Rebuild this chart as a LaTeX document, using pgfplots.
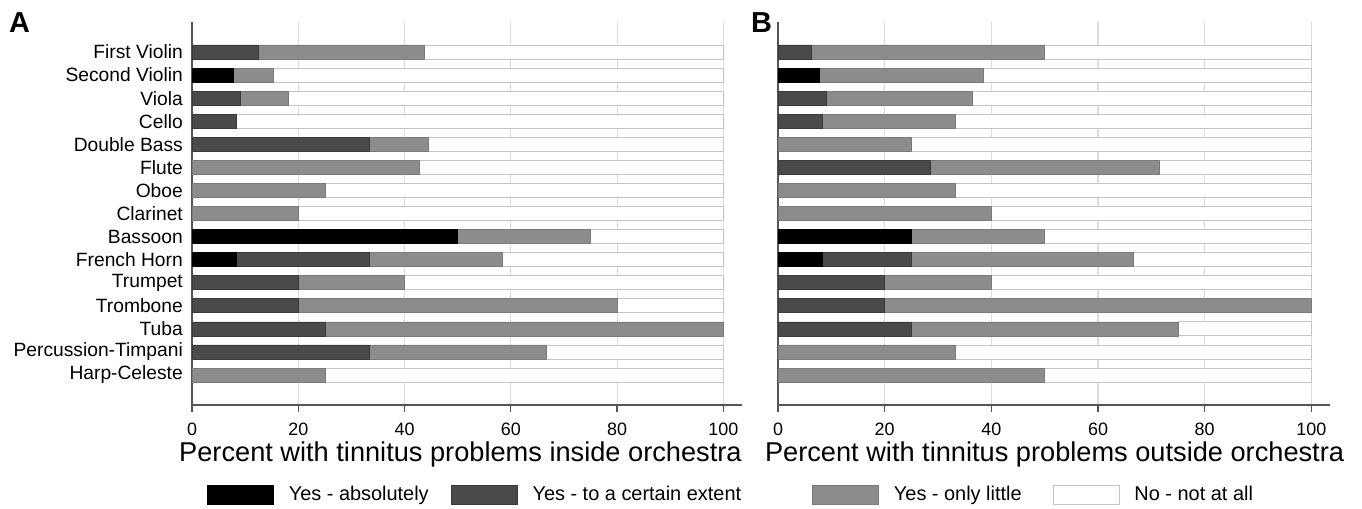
\documentclass[border=0pt]{standalone}
\usepackage{pgfplots}
\pgfplotsset{compat=1.18}
\usepackage{pgfplotstable}
\usepackage{fontspec}
\setmainfont{Liberation Sans}

\definecolor{darkbar}{HTML}{4A4A4A}
\definecolor{darkbard}{HTML}{3A3A3A}
\definecolor{midbar}{HTML}{8C8C8C}
\definecolor{midbard}{HTML}{7A7A7A}
\definecolor{whitebard}{HTML}{C4C4C4}
\definecolor{gridc}{HTML}{DCDCDC}
\definecolor{axisc}{HTML}{555555}

\pgfplotstableread{
id abs cert little no
1  0     12.5  31.25 56.25
2  7.69  0     7.69  84.62
3  0     9.09  9.09  81.82
4  0     8.33  0     91.67
5  0     33.33 11.11 55.56
6  0     0     42.86 57.14
7  0     0     25    75
8  0     0     20    80
9  50    0     25    25
10 8.33  25    25    41.67
11 0     20    20    60
12 0     20    60    20
13 0     25    75    0
14 0     33.33 33.33 33.34
15 0     0     25    75
}\dataA

\pgfplotstableread{
id abs cert little no
1  0     6.25  43.75 50
2  7.69  0     30.77 61.54
3  0     9.09  27.27 63.64
4  0     8.33  25    66.67
5  0     0     25    75
6  0     28.57 42.86 28.57
7  0     0     33.33 66.67
8  0     0     40    60
9  25    0     25    50
10 8.33  16.67 41.67 33.33
11 0     20    20    60
12 0     20    80    0
13 0     25    50    25
14 0     0     33.33 66.67
15 0     0     50    50
}\dataB

\pgfplotsset{
  panel/.style={
    scale only axis, height=383bp,
    xbar stacked, bar width=14bp,
    xmin=0, xmax=103.5, ymin=-0.3, ymax=16.3, y dir=reverse,
    axis x line*=bottom, axis y line*=left,
    axis line style={axisc, line width=1.3bp},
    xtick={0,20,...,100}, ytick={1,...,15},
    tick align=outside, major tick length=7bp,
    xtick style={axisc, line width=1.3bp},
    ytick style={draw=none},
    xmajorgrids, grid style={gridc, line width=1.2bp},
    /pgf/number format/assume math mode=true,
    xticklabel style={font=\fontsize{18}{20}\selectfont, inner sep=0pt, yshift=-10.5bp},
    yticklabel style={font=\fontsize{19.3}{21}\selectfont, inner sep=0pt, xshift=-2bp},
    xlabel style={anchor=base, yshift=-56bp, font=\fontsize{27.3}{30}\selectfont, inner sep=0pt},
    legend image code/.code={\draw[##1, line width=0.8bp] (0bp,-9.5bp) rectangle (66bp,9.5bp);},
  },
  s1/.style={fill=black, draw=black, line width=0.6bp},
  s2/.style={fill=darkbar, draw=darkbard, line width=0.6bp},
  s3/.style={fill=midbar, draw=midbard, line width=0.6bp},
  s4/.style={fill=white, draw=whitebard, line width=0.8bp},
}

\begin{document}
\begin{tikzpicture}
\useasboundingbox (0,0) rectangle (1362bp,509bp);

\begin{axis}[panel, width=550bp,
  at={(192bp,104bp)}, anchor=south west,
  yticklabels={First Violin,Second Violin,Viola,Cello,Double Bass,Flute,Oboe,Clarinet,Bassoon,French Horn,Trumpet,Trombone,Tuba,Percussion-Timpani,Harp-Celeste},
  xlabel={Percent with tinnitus problems inside orchestra},
  xlabel style={at={(axis description cs:0.488,0)}},
  legend columns=4,
  legend style={at={(axis description cs:0.0273,-0.2337)}, anchor=west,
    draw=none, fill=none, inner sep=0pt, outer sep=0pt,
    nodes={inner sep=0pt, font=\fontsize{20}{22}\selectfont},
    /tikz/every odd column/.append style={column sep=15bp},
    /tikz/every even column/.append style={column sep=22bp}},
]
\addplot[s1] table[x=abs, y=id] {\dataA};
\addplot[s2] table[x=cert, y=id] {\dataA};
\addplot[s3] table[x=little, y=id] {\dataA};
\addplot[s4] table[x=no, y=id] {\dataA};
\legend{Yes - absolutely, Yes - to a certain extent\hspace*{49bp}, Yes - only little\hspace*{9bp}, No - not at all}
\end{axis}

\begin{axis}[panel, width=552bp,
  at={(778bp,104bp)}, anchor=south west,
  yticklabels={},
  xlabel={Percent with tinnitus problems outside orchestra},
  xlabel style={at={(axis description cs:0.501,0)}},
]
\addplot[s1] table[x=abs, y=id] {\dataB};
\addplot[s2] table[x=cert, y=id] {\dataB};
\addplot[s3] table[x=little, y=id] {\dataB};
\addplot[s4] table[x=no, y=id] {\dataB};
\end{axis}

\node[anchor=base west, inner sep=0pt, font=\bfseries\fontsize{29}{30}\selectfont] at (9bp,476bp) {A};
\node[anchor=base west, inner sep=0pt, font=\bfseries\fontsize{29}{30}\selectfont] at (751bp,476bp) {B};
\end{tikzpicture}
\end{document}
